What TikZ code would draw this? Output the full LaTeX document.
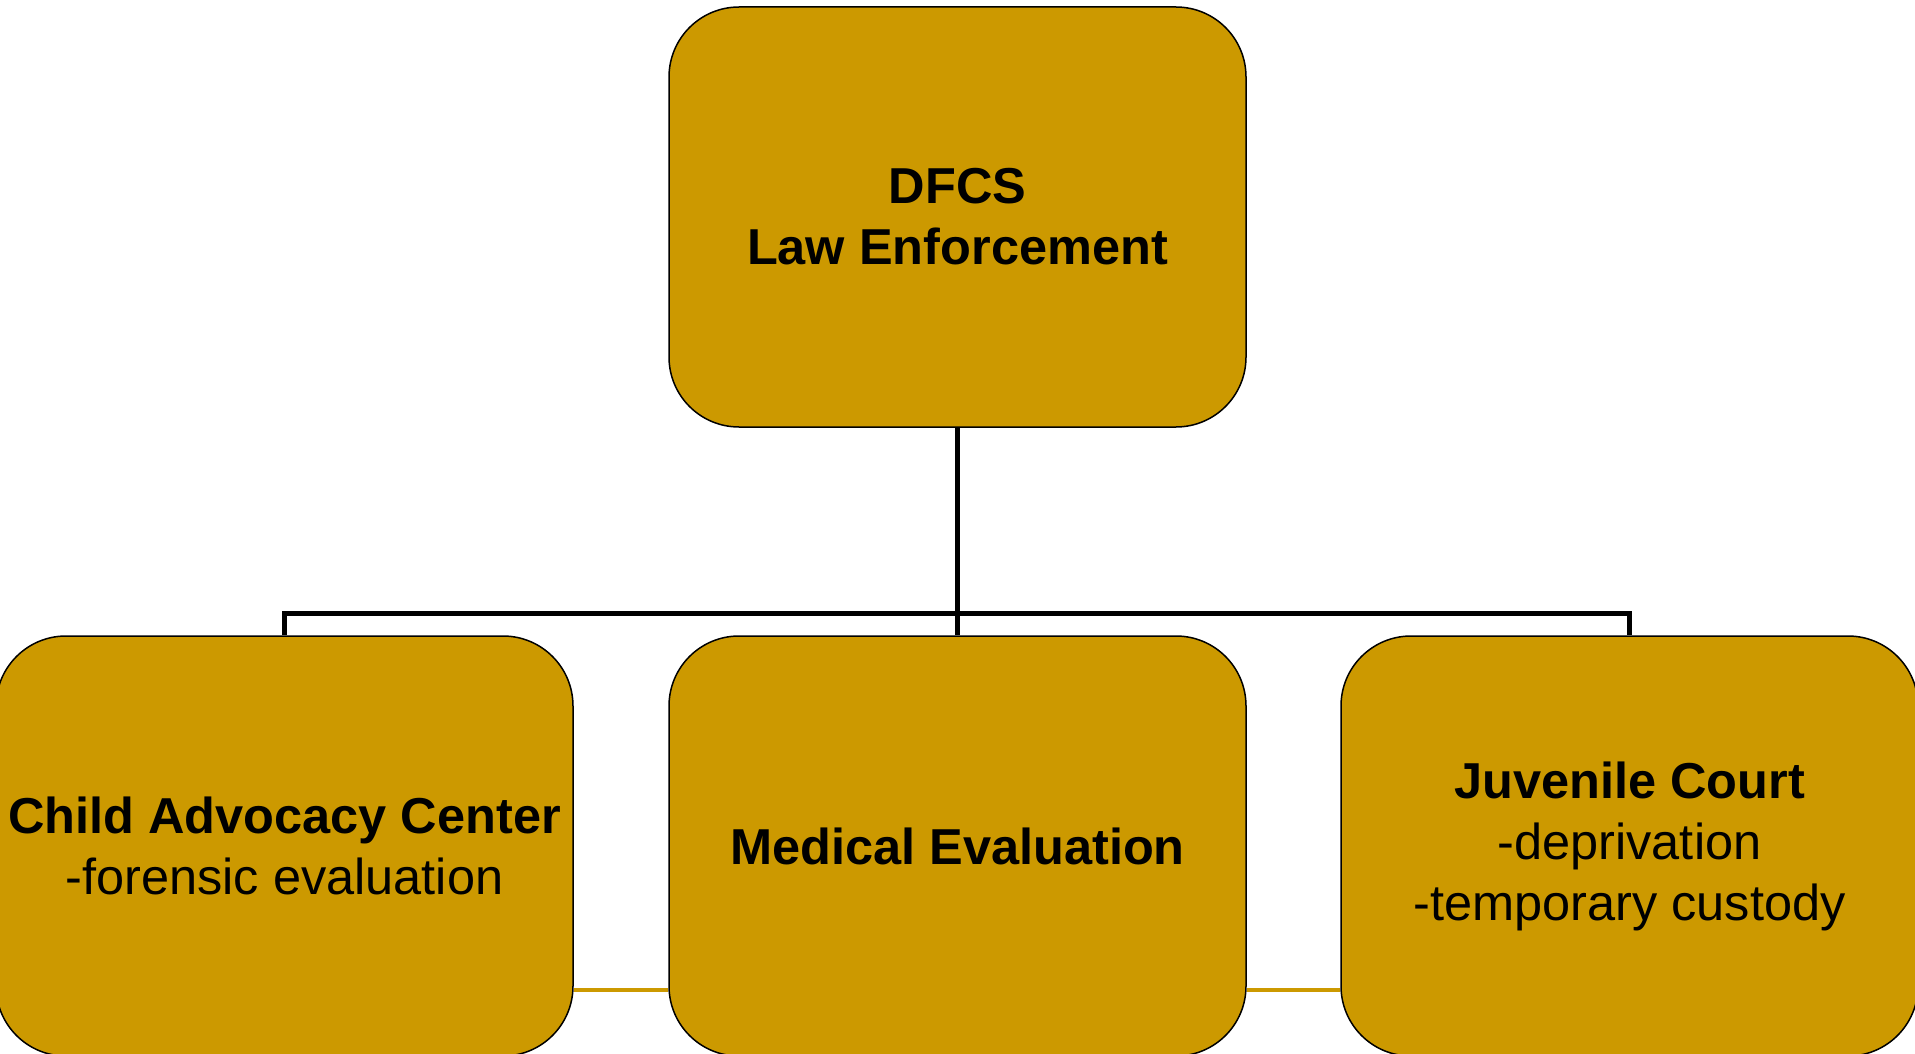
\documentclass[tikz,border=0pt]{standalone}
\usepackage{fontspec}
\setmainfont{Liberation Sans}
\usepackage{tikz}
\usetikzlibrary{arrows.meta,positioning}

\definecolor{boxgold}{RGB}{204,153,0}

\begin{document}
\begin{tikzpicture}[x=1pt,y=1pt,
    orgbox/.style={draw=black,line width=1.5pt,fill=boxgold,rounded corners=70pt,
      minimum width=577pt,minimum height=420pt,align=center,inner sep=0pt,
      font=\fontsize{50.5}{61}\selectfont},
    link/.style={draw=black,line width=5pt},
    goldlink/.style={draw=boxgold,line width=3.5pt}]
  \useasboundingbox (0,0) rectangle (1915,-1054);
  \clip (0,0) rectangle (1915,-1054);
  \node[orgbox] (top) at (957.5,-217) {\textbf{DFCS}\\\textbf{Law Enforcement}};
  \node[orgbox] (cac) at (284.5,-846) {\textbf{Child Advocacy Center}\\-forensic evaluation};
  \node[orgbox] (med) at (957.5,-846) {\textbf{Medical Evaluation}};
  \node[orgbox] (jc) at (1629.5,-846) {\textbf{Juvenile Court}\\-deprivation\\-temporary custody};
  \coordinate (bar) at (957.5,-613);
  \draw[link] (top.south) -- (med.north);
  \draw[link] (cac.north) |- (bar) -| (jc.north);
  \draw[goldlink] ([yshift=-144pt]cac.east) -- ([yshift=-144pt]med.west);
  \draw[goldlink] ([yshift=-144pt]med.east) -- ([yshift=-144pt]jc.west);
\end{tikzpicture}
\end{document}
